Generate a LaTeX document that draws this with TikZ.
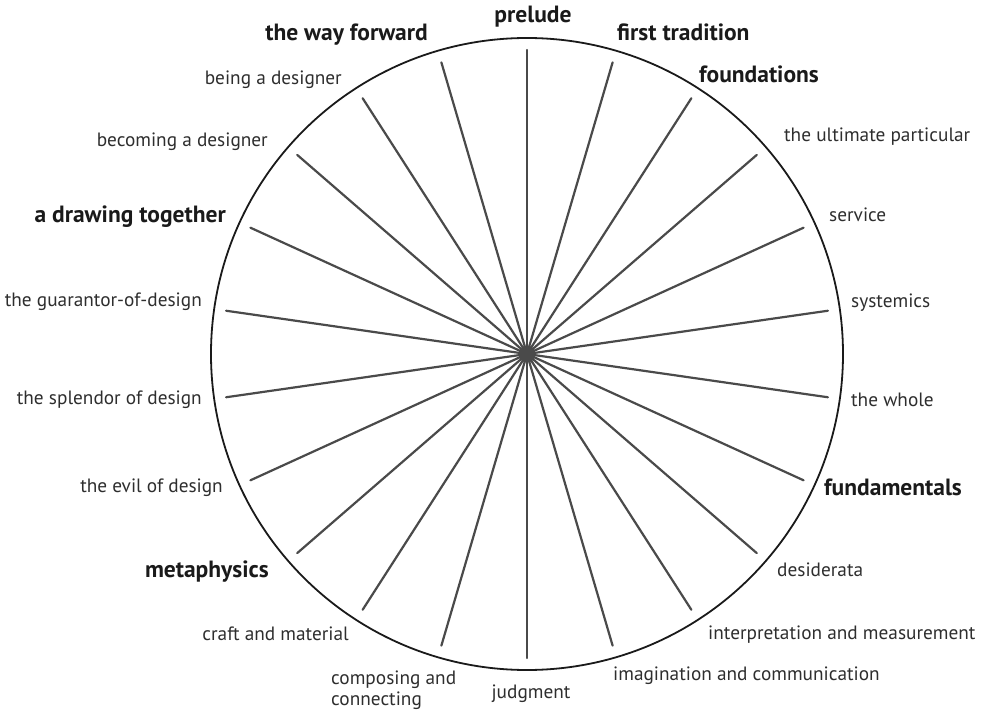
\documentclass[tikz,border=0pt]{standalone}
\usepackage{fontspec}
\setmainfont{PT Sans}
\usepackage{tikz}
\usepackage{tkz-euclide}
\usetikzlibrary{calc}
\usetikzlibrary{positioning}

\definecolor{spokegrey}{HTML}{4A4A4A}
\definecolor{textgrey}{HTML}{2E2E2E}
\definecolor{rimblack}{HTML}{1A1A1A}

\tikzset{
  spoke/.style={line width=2.2pt, draw=spokegrey},
  rim/.style={line width=1.8pt, draw=rimblack},
  hub/.style={circle, fill=spokegrey, inner sep=0pt, minimum size=17pt},
  minor/.style={font=\fontsize{19.3}{21}\selectfont, text=textgrey, inner sep=0pt},
  major/.style={font=\fontsize{23.5}{25}\selectfont\bfseries, text=rimblack, inner sep=0pt},
}

\begin{document}
\begin{tikzpicture}[%
  x=1pt, y=1pt,
]

  \useasboundingbox (-527,-358) rectangle (460,354);

  \tkzDefPoint(0,0){O}
  \tkzDefPoint(0,316){R}

  \tkzDefPoint(90:304){s0}
  \tkzDefPoint(73.636:304){s1}
  \tkzDefPoint(57.273:304){s2}
  \tkzDefPoint(40.909:304){s3}
  \tkzDefPoint(24.545:304){s4}
  \tkzDefPoint(8.182:304){s5}
  \tkzDefPoint(-8.182:304){s6}
  \tkzDefPoint(-24.545:304){s7}
  \tkzDefPoint(-40.909:304){s8}
  \tkzDefPoint(-57.273:304){s9}
  \tkzDefPoint(-73.636:304){s10}
  \tkzDefPoint(-90:304){s11}
  \tkzDefPoint(-106.364:304){s12}
  \tkzDefPoint(-122.727:304){s13}
  \tkzDefPoint(-139.091:304){s14}
  \tkzDefPoint(-155.455:304){s15}
  \tkzDefPoint(-171.818:304){s16}
  \tkzDefPoint(171.818:304){s17}
  \tkzDefPoint(155.455:304){s18}
  \tkzDefPoint(139.091:304){s19}
  \tkzDefPoint(122.727:304){s20}
  \tkzDefPoint(106.364:304){s21}

  \tkzDrawCircle[rim](O,R)

  \tkzDrawSegments[spoke](O,s0 O,s1 O,s2 O,s3 O,s4 O,s5 O,s6 O,s7 O,s8 O,s9 O,s10
    O,s11 O,s12 O,s13 O,s14 O,s15 O,s16 O,s17 O,s18 O,s19 O,s20 O,s21)

  \node[hub] (hub) at (O) {};

  % right half
  \node[major] (prelude) at (6,337) {prelude};
  \node[major, anchor=west] (firsttrad) at (90,322) {first tradition};
  \node[major, anchor=west] (foundations) at (172,280) {foundations};
  \node[minor, anchor=west] (ultimate) at (257,217) {the ultimate particular};
  \node[minor, anchor=west] (service) at (302,139) {service};
  \node[minor, anchor=west] (systemics) at (324,51) {systemics};
  \node[minor, anchor=west] (whole) at (324,-46) {the whole};
  \node[major, anchor=west] (fundamentals) at (297,-133) {fundamentals};
  \node[minor, anchor=west] (desiderata) at (250,-216) {desiderata};
  \node[minor, anchor=west] (interp) at (181,-281) {interpretation and measurement};
  \node[minor, anchor=west] (imagin) at (86,-322) {imagination and communication};
  \node[minor] (judgment) at (4,-340) {judgment};

  % left half
  \node[minor, anchor=west, align=left] (composing) at (-196,-336)
    {composing and\\connecting};
  \node[minor, anchor=east] (craft) at (-178,-280) {craft and material};
  \node[major, anchor=east] (metaphysics) at (-258,-218) {metaphysics};
  \node[minor, anchor=east] (evil) at (-304,-134) {the evil of design};
  \node[minor, anchor=east] (splendor) at (-325,-46) {the splendor of design};
  \node[minor, anchor=east] (guarantor) at (-325,52) {the guarantor-of-design};
  \node[major, anchor=east] (drawing) at (-301,137) {a drawing together};
  \node[minor, anchor=east] (becoming) at (-259,212) {becoming a designer};
  \node[minor, anchor=east] (being) at (-185,274) {being a designer};
  \node[major, anchor=east] (wayforward) at (-99,319) {the way forward};

\end{tikzpicture}
\end{document}
